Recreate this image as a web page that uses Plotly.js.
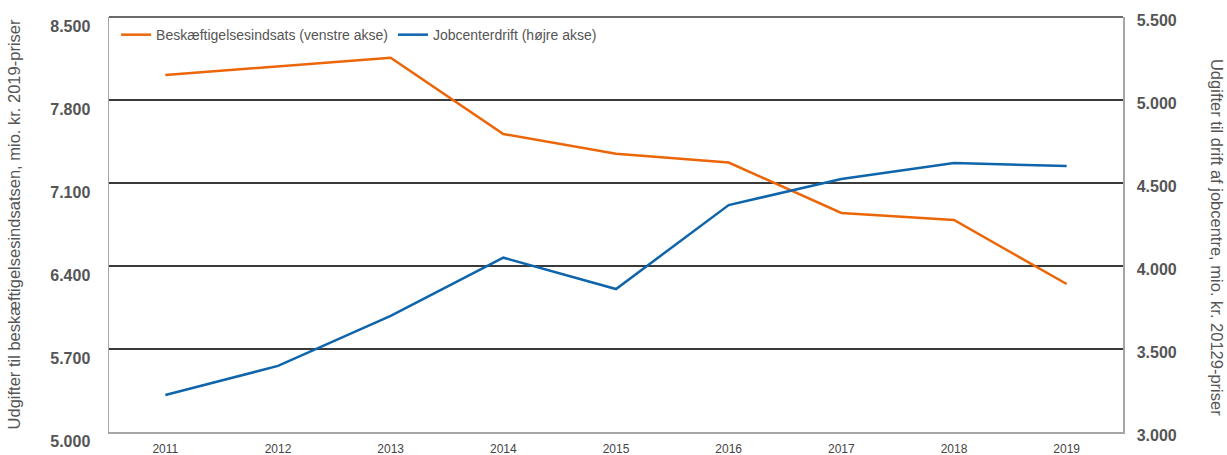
<!DOCTYPE html>
<html>
<head>
<meta charset="utf-8">
<script src="https://cdn.plot.ly/plotly-3.0.1.min.js"></script>
<style>html,body{margin:0;padding:0;background:#fff}#chart{width:1227px;height:455px}</style>
</head>
<body>
<div id="chart"></div>
<script>
const years = ['2011','2012','2013','2014','2015','2016','2017','2018','2019'];
const beskaeftigelse = [8.011, 8.081, 8.157, 7.513, 7.347, 7.273, 6.847, 6.788, 6.248];
const jobcenterdrift = [3.223, 3.398, 3.699, 4.050, 3.861, 4.367, 4.524, 4.620, 4.602];
const leftTicks = [5.0, 5.7, 6.4, 7.1, 7.8, 8.5];
const leftTickLabels = ['5.000','5.700','6.400','7.100','7.800','8.500'];
const rightTicks = [3.0, 3.5, 4.0, 4.5, 5.0, 5.5];
const rightTickLabels = ['3.000','3.500','4.000','4.500','5.000','5.500'];
const seriesNames = ['Beskæftigelsesindsats (venstre akse)', 'Jobcenterdrift (højre akse)'];
const leftTitle = 'Udgifter til beskæftigelsesindsatsen, mio. kr. 2019-priser';
const rightTitle = 'Udgifter til drift af jobcentre, mio. kr. 20129-priser';

const FONT = 'Liberation Sans, Arial, sans-serif';
const traces = [
  {x: years, y: beskaeftigelse, name: seriesNames[0], type: 'scatter', mode: 'lines',
   line: {color: '#EC6608', width: 2.5}, yaxis: 'y'},
  {x: years, y: jobcenterdrift, name: seriesNames[1], type: 'scatter', mode: 'lines',
   line: {color: '#0F65AB', width: 2.5}, yaxis: 'y2'}
];
const layout = {
  width: 1227, height: 455,
  margin: {l: 109, r: 104, t: 17, b: 23},
  paper_bgcolor: '#fff', plot_bgcolor: '#fff',
  font: {family: FONT, color: '#555'},
  showlegend: true,
  legend: {orientation: 'h', x: 0.007, y: 0.995, xanchor: 'left', yanchor: 'top',
           font: {size: 14, color: '#555', family: FONT}, bgcolor: 'rgba(0,0,0,0)'},
  xaxis: {type: 'category', range: [-0.5, 8.5], showgrid: false, zeroline: false,
          showline: true, linecolor: '#a6a6a6', linewidth: 1.5, ticks: '',
          tickfont: {size: 12, color: '#444'}, ticklabelstandoff: 5},
  yaxis: {range: [5.0, 8.5], tickvals: leftTicks, ticktext: leftTickLabels,
          showgrid: true, gridcolor: '#3a3a3a', gridwidth: 1.3, zeroline: false,
          showline: true, linecolor: '#a6a6a6', linewidth: 1.5, ticks: '',
          tickfont: {size: 16, color: '#555', family: FONT, weight: 'bold'},
          ticklabelstandoff: 14, ticklabelshift: 9,
          title: {text: leftTitle, font: {size: 16.5, color: '#555'}, standoff: 25}},
  yaxis2: {range: [3.0, 5.5], tickvals: rightTicks, ticktext: rightTickLabels,
           overlaying: 'y', side: 'right', showgrid: false, zeroline: false,
           showline: true, linecolor: '#a6a6a6', linewidth: 1.5, ticks: '',
           tickfont: {size: 16, color: '#555', family: FONT, weight: 'bold'},
           ticklabelstandoff: 9, ticklabelshift: 3},
  shapes: [{type: 'line', xref: 'paper', yref: 'paper', x0: 0, x1: 1, y0: 1, y1: 1,
            line: {color: '#3a3a3a', width: 1.3}}],
  annotations: [{text: rightTitle, xref: 'paper', yref: 'paper', x: 1, xshift: 105, y: 0.47,
                 showarrow: false, textangle: 90, font: {size: 16.5, color: '#555', family: FONT}}]
};
Plotly.newPlot('chart', traces, layout, {displayModeBar: false, staticPlot: true});
</script>
</body>
</html>
